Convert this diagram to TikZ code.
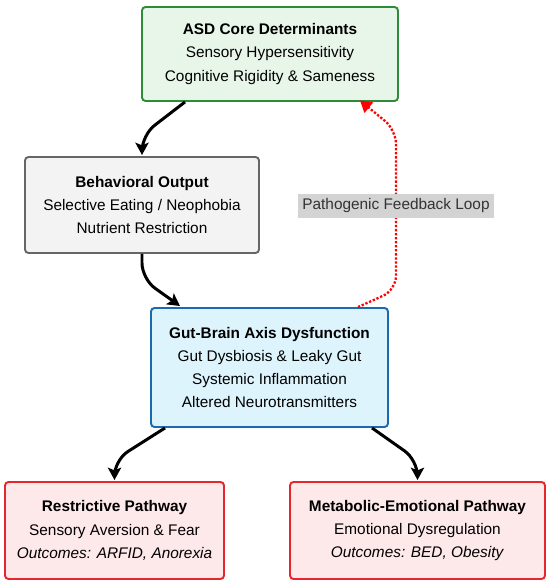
\documentclass[tikz,border=0pt]{standalone}
\usepackage{fontspec}
\setmainfont{Liberation Sans}
\usepackage{xcolor}
\usetikzlibrary{arrows.meta,positioning}

\definecolor{asdfill}{HTML}{E8F5E9}
\definecolor{asdline}{HTML}{2E8B3A}
\definecolor{behfill}{HTML}{F3F3F3}
\definecolor{behline}{HTML}{666666}
\definecolor{gutfill}{HTML}{DDF4FC}
\definecolor{gutline}{HTML}{1B6AAE}
\definecolor{pathfill}{HTML}{FDE8EA}
\definecolor{pathline}{HTML}{E5262D}
\definecolor{loopfill}{HTML}{D3D3D3}

\begin{document}
\begin{tikzpicture}[
  % --- global style ---
  every node/.style={font=\fontsize{8.75}{13.2}\selectfont},
  box/.style={
    draw, rounded corners=2pt, line width=1.1pt,
    align=center, inner sep=2pt
  },
  asdbox/.style={box, draw=asdline, fill=asdfill,
    minimum width=5.12cm, minimum height=1.88cm},
  behbox/.style={box, draw=behline, fill=behfill,
    minimum width=4.68cm, minimum height=1.92cm},
  gutbox/.style={box, draw=gutline, fill=gutfill,
    minimum width=4.74cm, minimum height=2.38cm},
  pathbox/.style={box, draw=pathline, fill=pathfill,
    minimum height=1.94cm},
  arr/.style={-{Stealth[length=7pt,width=7.5pt,inset=1.5pt]},
    line width=1.7pt, rounded corners=9pt},
  loop/.style={-{Triangle[length=6.5pt,width=7.5pt]}, red,
    line width=1.3pt, densely dotted, rounded corners=8pt},
]
\useasboundingbox (0,0) rectangle (11,11.72);

% ====== Boxes ======
\node[asdbox] (asd) at (5.40,10.64)
  {\textbf{ASD Core Determinants}\\Sensory Hypersensitivity\\Cognitive Rigidity \& Sameness};

\node[behbox] (beh) at (2.84,7.62)
  {\textbf{Behavioral Output}\\Selective Eating / Neophobia\\Nutrient Restriction};

\node[gutbox] (gut) at (5.39,4.37)
  {\textbf{Gut-Brain Axis Dysfunction}\\Gut Dysbiosis \& Leaky Gut\\Systemic Inflammation\\Altered Neurotransmitters};

\node[pathbox, minimum width=4.38cm] (restr) at (2.29,1.11)
  {\textbf{Restrictive Pathway}\\Sensory Aversion \& Fear\\\textit{Outcomes: ARFID, Anorexia}};

\node[pathbox, minimum width=5.10cm] (meta) at (8.35,1.11)
  {\textbf{Metabolic-Emotional Pathway}\\Emotional Dysregulation\\\textit{Outcomes: BED, Obesity}};

% ====== Arrows: main chain ======
\draw[arr] ([xshift=-1.7cm]asd.south) -- ([yshift=0.42cm]beh.north) -- ([yshift=0.02cm]beh.north);
\draw[arr] (beh.south) -- ([yshift=-0.5cm]beh.south) -- ([xshift=-1.79cm,yshift=0.02cm]gut.north);

% split to pathways
\draw[arr] ([xshift=-2.09cm]gut.south) -- ([yshift=0.42cm]restr.north) -- ([yshift=0.02cm]restr.north);
\draw[arr] ([xshift=2.05cm]gut.south) -- ([yshift=0.42cm]meta.north) -- ([yshift=0.02cm]meta.north);

% ====== Feedback loop ======
\coordinate (fblow) at (7.92,5.92);
\coordinate (fbup)  at (7.92,9.12);
\draw[loop] ([xshift=1.77cm]gut.north) -- (fblow) -- (fbup) -- ([xshift=1.8cm,yshift=0.03cm]asd.south);

\node[fill=loopfill, text=black!80, inner sep=2.5pt] (fblabel) at (7.92,7.60)
  {Pathogenic Feedback Loop};

\end{tikzpicture}
\end{document}
